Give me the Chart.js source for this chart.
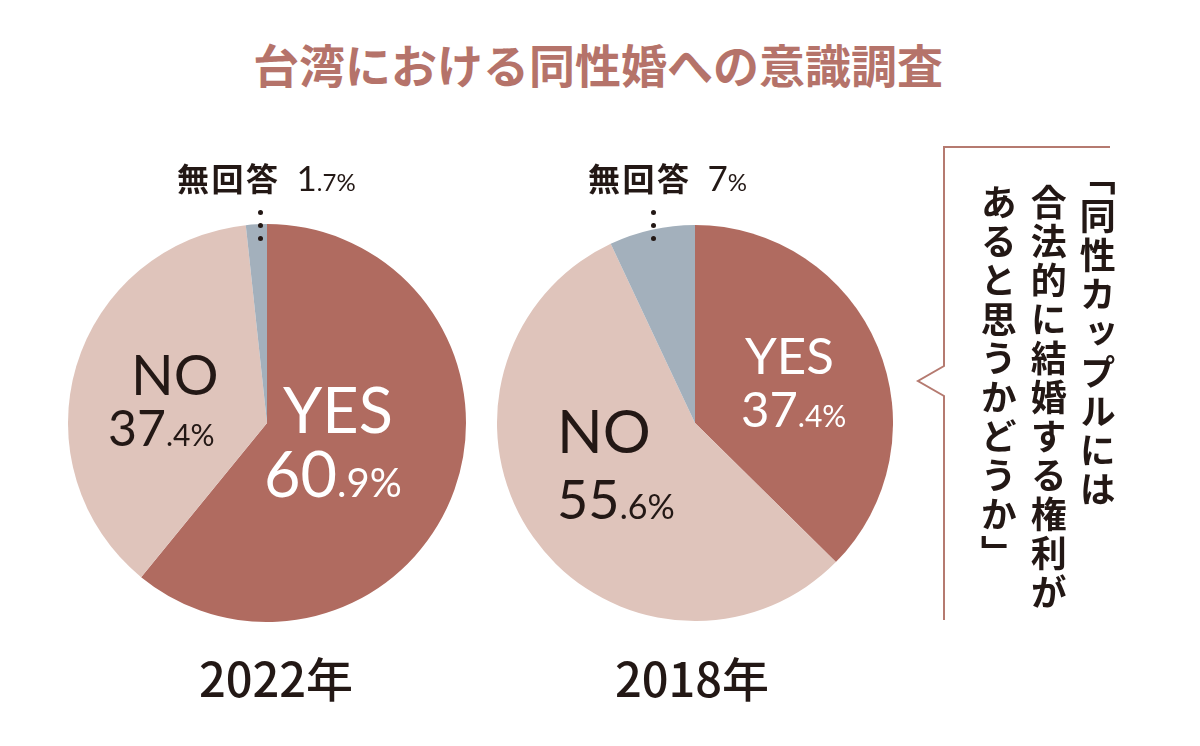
<!DOCTYPE html>
<html><head><meta charset="utf-8">
<script src="https://cdn.jsdelivr.net/npm/chart.js@4"></script>
<style>
html,body{margin:0;padding:0;background:#fff;}
#wrap{position:relative;width:1200px;height:746px;overflow:hidden;background:#fff;}
.abs{position:absolute;line-height:1;white-space:nowrap;}
.cjk{font-family:"Noto Sans CJK JP","Noto Sans CJK SC",sans-serif;}
.num{font-family:"Lato",sans-serif;font-weight:400;}
.dot{position:absolute;width:5px;height:5px;border-radius:50%;background:#231815;}
.vcol{position:absolute;writing-mode:vertical-rl;font-family:"Noto Sans CJK JP",sans-serif;font-weight:700;font-size:36px;line-height:49.5px;letter-spacing:3px;color:#231815;width:49.5px;white-space:nowrap;}
.open{margin-inline-start:-25px;}
canvas{position:absolute;}
</style></head>
<body><div id="wrap">
<div class="abs cjk" id="title" style="left:0;top:40px;width:1196px;text-align:center;font-size:46px;font-weight:700;color:#b5736a;"></div>
<canvas id="c2022" width="398" height="398" style="left:68px;top:224px;width:398px;height:398px"></canvas>
<canvas id="c2018" width="396" height="396" style="left:497px;top:225px;width:396px;height:396px"></canvas>
<svg width="1200" height="746" style="position:absolute;left:0;top:0;pointer-events:none">
<polyline points="1110,147 944,147 944,366 918,381 944,396 944,620" fill="none" stroke="#b57a70" stroke-width="2"/>
</svg>
</div>
<script>
// ---- data ----
const title = '台湾における同性婚への意識調査';
const categories = ['YES', 'NO', '無回答'];
const years = ['2022年', '2018年'];
const values2022 = [60.9, 37.4, 1.7];
const values2018 = [37.4, 55.6, 7];
const question = ['「同性カップルには', '合法的に結婚する権利が', 'あると思うかどうか」'];
const colors = ['#b06b60', '#dfc4bb', '#a3b0bc'];

const wrap = document.getElementById('wrap');
document.getElementById('title').textContent = title;

function mk(html, cls, style) {
  const d = document.createElement('div');
  d.className = cls; d.setAttribute('style', style); d.innerHTML = html;
  wrap.appendChild(d); return d;
}
function splitNum(v) {
  const s = String(v);
  const i = s.indexOf('.');
  return i < 0 ? [s, '%'] : [s.slice(0, i), s.slice(i) + '%'];
}
function makeChart(id, values) {
  new Chart(document.getElementById(id), {
    type: 'pie',
    data: { labels: categories, datasets: [{ data: values, backgroundColor: colors, borderWidth: 0 }] },
    options: {
      responsive: false, animation: false, rotation: 0,
      layout: { padding: 0 },
      plugins: { legend: { display: false }, tooltip: { enabled: false } }
    }
  });
}
makeChart('c2022', values2022);
makeChart('c2018', values2018);

// slice labels
const layouts = [
  { vals: values2022, yr: { cx: 276, top: 653 },
    na: { left: 177, top: 160, gap: 16, big: 35, small: 24 }, dotX: 258,
    lab: [
      { i: 0, color: '#fff', l1: { left: 283, top: 377, fs: 63 }, l2: { left: 264, top: 441, fs: 63, sm: 40 } },
      { i: 1, color: '#231815', l1: { left: 131, top: 346, fs: 56 }, l2: { left: 108, top: 402, fs: 50, sm: 30 } }
    ] },
  { vals: values2018, yr: { cx: 692, top: 653 },
    na: { left: 588, top: 160, gap: 16, big: 35, small: 24 }, dotX: 651,
    lab: [
      { i: 0, color: '#fff', l1: { left: 745, top: 329, fs: 51 }, l2: { left: 741, top: 384, fs: 49, sm: 30 } },
      { i: 1, color: '#231815', l1: { left: 557, top: 400, fs: 60 }, l2: { left: 557, top: 472, fs: 54, sm: 34 } }
    ] }
];
layouts.forEach((L, k) => {
  L.lab.forEach(b => {
    const v = splitNum(L.vals[b.i]);
    mk(categories[b.i], 'abs num', `left:${b.l1.left}px;top:${b.l1.top}px;font-size:${b.l1.fs}px;color:${b.color}`);
    mk(`${v[0]}<span style="font-size:${b.l2.sm}px">${v[1]}</span>`, 'abs num',
       `left:${b.l2.left}px;top:${b.l2.top}px;font-size:${b.l2.fs}px;color:${b.color}`);
  });
  const nv = splitNum(L.vals[2]);
  mk(`<span class="cjk" style="font-size:32px;font-weight:700;letter-spacing:2.5px">${categories[2]}</span><span class="num" style="margin-left:${L.na.gap}px;font-size:${L.na.big}px">${nv[0]}<span style="font-size:${L.na.small}px">${nv[1]}</span></span>`,
     'abs', `left:${L.na.left}px;top:${L.na.top}px;font-size:32px;color:#231815`);
  [212, 225, 238].forEach(y => mk('', 'dot', `left:${L.dotX}px;top:${y - 2}px`));
  mk(years[k], 'abs cjk', `left:${L.yr.cx - 150}px;width:300px;text-align:center;top:${L.yr.top}px;font-size:47px;font-weight:500;color:#231815`);
});

// vertical question text
const colX = [1097, 1048, 998];
question.forEach((q, i) => {
  const html = q.replace(/^「/, '<span class="open">「</span>');
  mk(html, 'vcol', `left:${colX[i] - 24.75}px;top:184px`);
});
</script>
</body></html>
